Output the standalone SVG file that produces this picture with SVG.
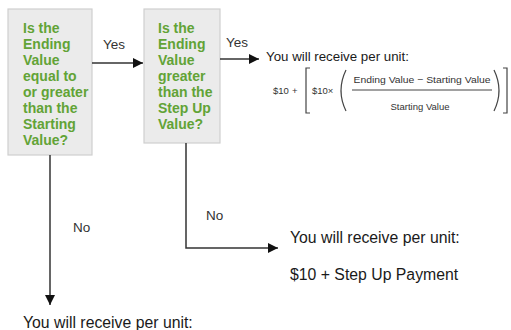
<svg xmlns="http://www.w3.org/2000/svg" width="511" height="330" viewBox="0 0 511 330">
<defs>
<style>
.box{fill:#ebebeb;stroke:#cfcfcf;stroke-width:1.2}
.q{font-family:"Liberation Sans",Arial,sans-serif;font-weight:bold;font-size:14px;fill:#62a336}
.lbl{font-family:"Liberation Sans",Arial,sans-serif;font-size:13.5px;fill:#333}
.txt{font-family:"Liberation Sans",Arial,sans-serif;fill:#1a1a1a}
.f{font-family:"Liberation Sans",Arial,sans-serif;font-size:9.5px;fill:#333}
.conn{fill:none;stroke:#333;stroke-width:1.5}
.br{fill:none;stroke:#444;stroke-width:1.2}
</style>
<marker id="ah" viewBox="0 0 10 10" refX="10" refY="5" markerWidth="10" markerHeight="10" markerUnits="userSpaceOnUse" orient="auto">
<path d="M0,0 L10,5 L0,10 z" fill="#111"/>
</marker>
</defs>
<rect width="511" height="330" fill="#fff"/>
<g id="q1">
<rect class="box" x="8" y="9" width="84" height="146"/>
<text class="q" x="23" y="33">Is the</text>
<text class="q" x="23" y="49">Ending</text>
<text class="q" x="23" y="65">Value</text>
<text class="q" x="23" y="81">equal to</text>
<text class="q" x="23" y="97">or greater</text>
<text class="q" x="23" y="113">than the</text>
<text class="q" x="23" y="129">Starting</text>
<text class="q" x="23" y="145">Value?</text>
</g>
<g id="q2">
<rect class="box" x="144" y="9" width="76" height="134"/>
<text class="q" x="158" y="33">Is the</text>
<text class="q" x="158" y="49">Ending</text>
<text class="q" x="158" y="65">Value</text>
<text class="q" x="158" y="81">greater</text>
<text class="q" x="158" y="97">than the</text>
<text class="q" x="158" y="113">Step Up</text>
<text class="q" x="158" y="129">Value?</text>
</g>
<g id="connectors">
<line class="conn" x1="92" y1="63" x2="143" y2="63" marker-end="url(#ah)"/>
<text class="lbl" x="103" y="49">Yes</text>
<line class="conn" x1="220" y1="59" x2="259" y2="59" marker-end="url(#ah)"/>
<text class="lbl" x="226" y="47">Yes</text>
<polyline class="conn" points="186,143 186,248 278,248" marker-end="url(#ah)"/>
<text class="lbl" x="206" y="220" font-size="15">No</text>
<line class="conn" x1="50" y1="155" x2="50" y2="305" marker-end="url(#ah)"/>
<text class="lbl" x="73" y="232" font-size="15">No</text>
</g>
<g id="out-yes">
<text class="txt" x="266" y="61" font-size="13.3">You will receive per unit:</text>
<text class="f" x="273" y="94">$10</text>
<text class="f" x="292" y="94">+</text>
<path class="br" d="M310,68 L306,68 L306,113 L310,113"/>
<text class="f" x="312" y="94">$10×</text>
<path class="br" d="M346,70 Q336,90.5 346,111"/>
<text class="f" x="422" y="83" text-anchor="middle" textLength="137" lengthAdjust="spacingAndGlyphs">Ending Value − Starting Value</text>
<line x1="352" y1="90" x2="492" y2="90" stroke="#444" stroke-width="1"/>
<text class="f" x="420" y="110" text-anchor="middle">Starting Value</text>
<path class="br" d="M494,70 Q504,90.5 494,111"/>
<path class="br" d="M503,68 L507,68 L507,113 L503,113"/>
</g>
<g id="out-stepup">
<text class="txt" x="290" y="243" font-size="15.8">You will receive per unit:</text>
<text class="txt" x="290" y="280" font-size="15.8">$10 + Step Up Payment</text>
</g>
<g id="out-no">
<text class="txt" x="23" y="328" font-size="15.8">You will receive per unit:</text>
</g>
</svg>
